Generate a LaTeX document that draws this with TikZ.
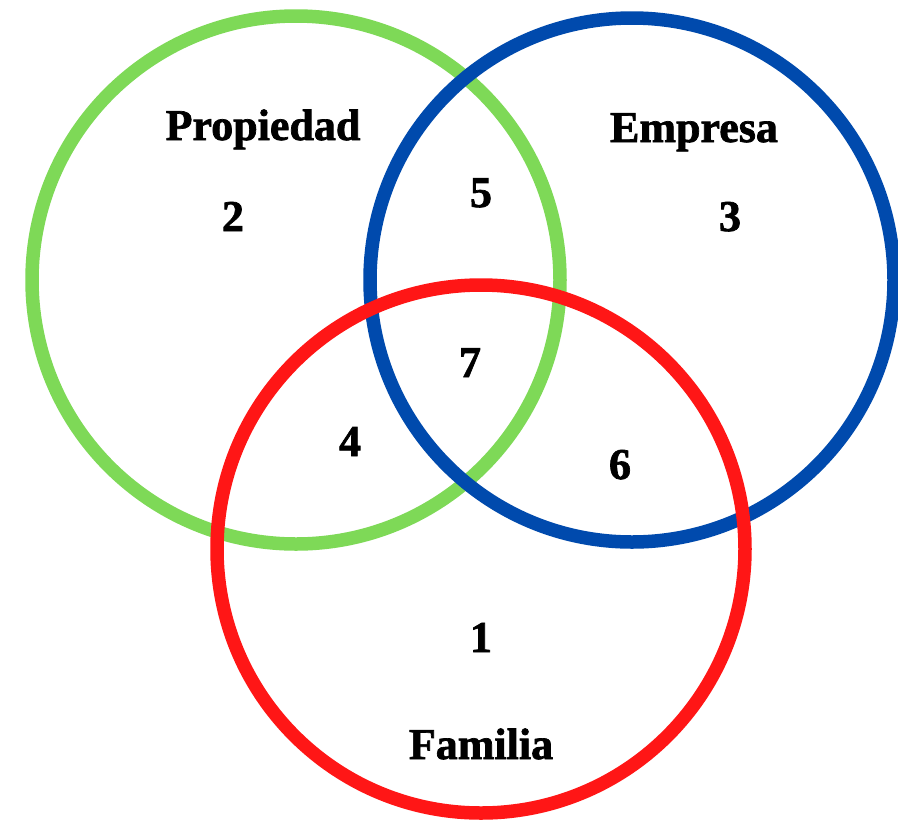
\documentclass[tikz,border=0pt]{standalone}
\usepackage{fontspec}
\setmainfont{Liberation Serif}
\newfontfamily\heavyserif[FakeBold=1.6]{Liberation Serif Bold}
\definecolor{cgreen}{HTML}{7ED957}
\definecolor{cblue}{HTML}{004AAD}
\definecolor{cred}{HTML}{FF1616}
\begin{document}
\begin{tikzpicture}[x=1pt,y=-1pt,
  ring/.style={line width=13.5pt},
  lbl/.style={anchor=base,inner sep=0pt,font=\fontsize{44}{44}\heavyserif}]
\useasboundingbox[fill=white] (0,0) rectangle (898,820);
\draw[ring,cgreen] (296,280) circle[radius=264];
\draw[ring,cblue] (632,280) circle[radius=262];
\draw[ring,cred] (481,549) circle[radius=264];
\node[lbl] (prop) at (263,140) {Propiedad};
\node[lbl] (emp) at (694,142) {Empresa};
\node[lbl] (fam) at (481,759) {Familia};
\node[lbl] (n2) at (233,231) {2};
\node[lbl] (n5) at (481,207) {5};
\node[lbl] (n3) at (730,231) {3};
\node[lbl] (n7) at (470,377) {7};
\node[lbl] (n4) at (350,456) {4};
\node[lbl] (n6) at (620,479) {6};
\node[lbl] (n1) at (481,652) {1};
\end{tikzpicture}
\end{document}
